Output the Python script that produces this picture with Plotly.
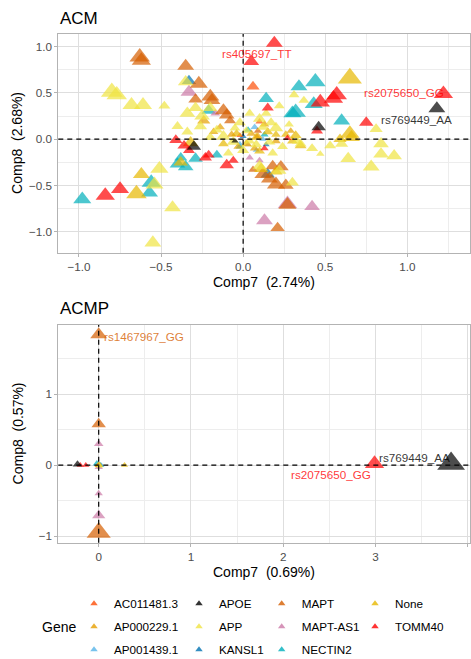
import plotly.graph_objects as go

W, H = 471, 659

# ---------------- data ----------------
genes = ["AC011481.3", "AP000229.1", "AP001439.1", "APOE", "APP", "KANSL1",
         "MAPT", "MAPT-AS1", "NECTIN2", "None", "TOMM40"]

# ACM panel (Comp7 vs Comp8) : gene, coordinates, contribution (drives marker size)
acm_gene = (["TOMM40"] * 20 + ["APOE"] * 4 + ["AC011481.3"] * 3 + ["MAPT"] * 20 +
            ["MAPT-AS1"] * 8 + ["KANSL1"] * 4 + ["AP001439.1"] * 4 + ["NECTIN2"] * 19 +
            ["APP"] * 56 + ["AP000229.1"] * 11 + ["None"] * 21)
acm_x = [
    # TOMM40
    0.19, 0.05, 1.22, 0.57, 0.55, 0.47, 0.75, 0.15, 0.45, -0.84, -0.75, -0.41, -0.36, -0.33, -0.23, -0.21, -0.10, -0.06, 0.27, 0.13,
    # APOE
    1.18, 0.46, -0.30, -0.05,
    # AC011481.3
    0.06, 0.10, -0.02,
    # MAPT
    -0.63, -0.62, -0.35, -0.27, -0.20, -0.19, -0.29, -0.12, -0.10, -0.08, 0.12, 0.16, 0.20, 0.26, 0.23, 0.18, 0.27, 0.21, 0.09, 0.06,
    # MAPT-AS1
    -0.33, 0.27, 0.42, 0.13, 0.04, 0.10, -0.17, 0.03,
    # KANSL1
    -0.33, 0.15, 0.00, 0.14,
    # AP001439.1
    0.07, -0.02, 0.08, 0.12,
    # NECTIN2
    -0.98, -0.56, -0.57, -0.40, -0.35, -0.38, -0.29, -0.16, -0.21, 0.14, 0.34, 0.44, 0.43, 0.32, 0.30, 0.60, 0.13, -0.02, 0.03,
    # APP
    -0.80, -0.77, -0.68, -0.61, -0.48, -0.35, -0.34, -0.29, -0.25, -0.20, -0.26, -0.16, -0.12, -0.05, -0.02, 0.02, 0.04, 0.10, 0.14, 0.17,
    0.22, 0.31, 0.37, 0.20, 0.08, 0.16, 0.24, 0.35, 0.47, 0.53, 0.60, 0.64, 0.78, 0.84, 0.84, 0.92, 0.81, -0.51, -0.54, -0.43,
    -0.55, 0.10, 0.30, 0.22, -0.06, 0.00, -0.09, 0.04, 0.28, -0.40, -0.34, 0.33, 0.12, 0.42, 0.18, -0.20,
    # AP000229.1
    -0.24, -0.07, 0.05, -0.14, 0.09, 0.20, 0.07, -0.03, 0.13, -0.18, 0.29,
    # None
    0.65, -0.62, -0.65, -0.38, 0.65, 0.66, 0.59, 0.32, 0.35, -0.32, 0.08, 0.15, -0.04, 0.02, 0.10, -0.12, 0.20, 0.26, 0.11, 0.20, 0.30,
]
acm_y = [
    # TOMM40
    1.04, 0.84, 0.49, 0.48, 0.44, 0.40, 0.18, 0.34, 0.09, -0.61, -0.54, -0.01, -0.07, -0.12, -0.20, -0.17, -0.28, -0.23, 0.01, -0.10,
    # APOE
    0.33, 0.13, -0.08, -0.02,
    # AC011481.3
    0.57, 0.19, 0.04,
    # MAPT
    0.89, 0.85, 0.79, 0.60, 0.46, 0.42, 0.43, 0.31, 0.26, 0.20, -0.38, -0.43, -0.49, -0.50, -0.30, -0.29, -0.71, -0.96, 0.09, -0.33,
    # MAPT-AS1
    0.51, -0.70, -0.73, -0.88, -0.20, -0.23, 0.28, -0.06,
    # KANSL1
    0.63, -0.38, 0.03, -0.06,
    # AP001439.1
    0.13, -0.05, -0.12, 0.00,
    # NECTIN2
    -0.65, -0.47, -0.58, -0.27, -0.30, -0.20, -0.21, -0.17, 0.31, 0.44, 0.57, 0.62, 0.38, 0.29, 0.28, 0.20, 0.05, -0.08, 0.10,
    # APP
    0.51, 0.48, 0.37, 0.37, 0.36, 0.62, 0.28, 0.34, 0.25, 0.34, 0.14, 0.10, 0.03, 0.12, 0.18, 0.09, 0.28, 0.22, 0.28, 0.18,
    0.36, 0.48, 0.42, 0.12, -0.06, -0.03, -0.08, -0.05, -0.16, -0.07, -0.05, -0.21, -0.30, -0.16, -0.05, -0.18, 0.11, -0.32, -0.49, -0.74,
    -1.12, -0.29, -0.47, -0.34, -0.03, -0.12, -0.15, -0.02, 0.16, 0.14, 0.08, -0.02, 0.13, -0.10, -0.15, 0.02,
    # AP000229.1
    0.20, 0.05, 0.06, 0.13, 0.03, -0.02, -0.10, -0.08, 0.16, 0.08, 0.09,
    # None
    0.66, -0.38, -0.59, -0.25, 0.06, 0.02, 0.00, 0.04, -0.07, -0.04, 0.02, 0.08, 0.06, -0.05, -0.13, -0.05, 0.05, 0.05, -0.32, -0.35, -0.02,
]
acm_contrib = [
    # TOMM40
    14, 13, 16, 17, 16, 16, 12, 10, 10, 16, 15, 11, 11, 10, 11, 10, 12, 9, 7, 7,
    # APOE
    14, 12, 12, 6,
    # AC011481.3
    11, 7, 6,
    # MAPT
    17, 16, 14, 15, 15, 14, 12, 14, 13, 10, 14, 14, 15, 13, 13, 12, 15, 12, 7, 8,
    # MAPT-AS1
    14, 16, 13, 14, 7, 7, 8, 6,
    # KANSL1
    12, 12, 6, 6,
    # AP001439.1
    7, 6, 6, 6,
    # NECTIN2
    15, 16, 14, 13, 13, 11, 12, 10, 12, 13, 14, 17, 15, 17, 15, 14, 7, 7, 7,
    # APP
    18, 17, 15, 15, 10, 13, 13, 12, 13, 12, 11, 10, 12, 9, 10, 9, 9, 11, 9, 10,
    9, 9, 9, 12, 10, 10, 9, 10, 7, 10, 11, 13, 14, 13, 13, 13, 11, 15, 15, 14,
    14, 12, 11, 12, 11, 10, 9, 9, 8, 10, 10, 9, 10, 10, 9, 10,
    # AP000229.1
    11, 8, 8, 8, 8, 8, 8, 8, 8, 8, 7,
    # None
    20, 14, 17, 12, 16, 14, 11, 10, 10, 13, 9, 9, 9, 9, 9, 9, 8, 8, 12, 11, 9,
]

# ACMP panel
acmp_gene = (["MAPT"] * 3 + ["MAPT-AS1"] * 4 + ["APOE"] * 2 + ["TOMM40"] * 3 + ["NECTIN2"] * 2 +
             ["APP"] + ["None"] * 2 + ["AP000229.1"] + ["AP001439.1"] + ["KANSL1"] + ["AC011481.3"])
acmp_x = [0.0, 0.0, 0.0,  0.0, 0.0, 0.0, 0.0,  3.82, -0.23,  2.99, -0.20, -0.14,  -0.02, 0.02,
          0.01,  0.0, 0.28,  0.01,  0.03,  0.0,  -0.01]
acmp_y = [1.84, 0.58, -0.95,  0.30, -0.03, -0.40, -0.71,  0.02, 0.01,  0.02, 0.0, 0.0,  0.02, 0.0,
          -0.01,  0.0, 0.0,  0.01,  0.0,  -0.01,  0.0]
acmp_contrib = [14, 12, 20,  8, 7, 7, 11,  23, 8,  16, 6, 6,  7, 6,  6,  7, 6,  5,  5,  5,  5]

# labelled points: (text, panel, x, y, gene)
label_text = ["rs405697_TT", "rs2075650_GG", "rs769449_AA", "rs1467967_GG", "rs2075650_GG", "rs769449_AA"]
label_panel = [1, 1, 1, 2, 2, 2]
label_x = [0.19, 1.22, 1.18, 0.0, 2.99, 3.82]
label_y = [1.04, 0.49, 0.33, 1.84, 0.02, 0.02]
label_gene = ["TOMM40", "TOMM40", "APOE", "MAPT", "TOMM40", "APOE"]

assert len(acm_gene) == len(acm_x) == len(acm_y) == len(acm_contrib)
assert len(acmp_gene) == len(acmp_x) == len(acmp_y) == len(acmp_contrib)

# ---------------- styles ----------------
colors = {
    "AC011481.3": "#FC4E07", "AP000229.1": "#E69F00", "AP001439.1": "#56B4E9",
    "APOE": "#000000", "APP": "#F0E442", "KANSL1": "#0072B2", "MAPT": "#D55E00",
    "MAPT-AS1": "#CC79A7", "NECTIN2": "#00AFBB", "None": "#E7B800", "TOMM40": "#FF0000",
}
draw_order = ["NECTIN2", "KANSL1", "AP001439.1", "MAPT-AS1", "MAPT", "AC011481.3",
              "None", "AP000229.1", "APP", "TOMM40", "APOE"]
legend_cols = [["AC011481.3", "AP000229.1", "AP001439.1"],
               ["APOE", "APP", "KANSL1"],
               ["MAPT", "MAPT-AS1", "NECTIN2"],
               ["None", "TOMM40"]]
legend_sym_x = [94, 199, 281.7, 375]

FONT = "Liberation Sans, Arial, sans-serif"


def rgba(hexc, a):
    h = hexc.lstrip("#")
    return "rgba(%d,%d,%d,%.2f)" % (int(h[0:2], 16), int(h[2:4], 16), int(h[4:6], 16), a)


def px_x(p):
    return p / W


def px_y(p):
    return 1 - p / H


fig = go.Figure()

panels = [(acm_gene, acm_x, acm_y, acm_contrib, "x", "y"),
          (acmp_gene, acmp_x, acmp_y, acmp_contrib, "x2", "y2")]
for gl, xl, yl, cl, xa, ya in panels:
    for g in draw_order:
        idx = [i for i, gg in enumerate(gl) if gg == g]
        if not idx:
            continue
        fig.add_trace(go.Scatter(
            x=[xl[i] for i in idx], y=[yl[i] for i in idx], mode="markers",
            xaxis=xa, yaxis=ya, showlegend=False, legendgroup=g, name=g,
            marker=dict(symbol="triangle-up", size=[1.05 * cl[i] for i in idx],
                        color=colors[g], opacity=0.7, line=dict(width=0)),
            hoverinfo="skip"))

# legend entries (one legend per column)
for ci, col in enumerate(legend_cols):
    lname = "legend" if ci == 0 else "legend%d" % (ci + 1)
    for g in col:
        fig.add_trace(go.Scatter(
            x=[None], y=[None], mode="markers", name=g, legendgroup=g, legend=lname,
            showlegend=True,
            marker=dict(symbol="triangle-up", size=6.5, color=colors[g], opacity=0.8,
                        line=dict(width=0))))

legend_common = dict(font=dict(family=FONT, size=11.7, color="#000000"),
                     bgcolor="rgba(0,0,0,0)", tracegroupgap=4, orientation="v",
                     xanchor="left", yanchor="top", y=px_y(589), itemwidth=30)
legends = {}
for ci in range(4):
    lname = "legend" if ci == 0 else "legend%d" % (ci + 1)
    legends[lname] = dict(legend_common, x=px_x(legend_sym_x[ci] - 20))

grid_major = "#DEDEDE"
grid_minor = "#EDEDED"
axis_common = dict(showline=True, mirror=True, linecolor="#B3B3B3", linewidth=1,
                   showgrid=True, gridcolor=grid_major, gridwidth=1, zeroline=False,
                   ticks="outside", ticklen=3, tickcolor="#B3B3B3", tickwidth=1,
                   tickfont=dict(family=FONT, size=11.7, color="#4D4D4D"))

xdom = [px_x(58.3), px_x(470)]
fig.update_layout(
    width=W, height=H, margin=dict(l=0, r=0, t=0, b=0, autoexpand=False),
    paper_bgcolor="white", plot_bgcolor="white",
    font=dict(family=FONT),
    xaxis=dict(axis_common, domain=xdom, range=[-1.126, 1.382], tick0=0, dtick=0.5,
               tickformat=".1f", anchor="y",
               minor=dict(dtick=0.25, tick0=0, showgrid=True, gridcolor=grid_minor, gridwidth=0.6, ticks="")),
    yaxis=dict(axis_common, domain=[px_y(252.7), px_y(34)], range=[-1.228, 1.138], tick0=0,
               dtick=0.5, tickformat=".1f", anchor="x",
               minor=dict(dtick=0.25, tick0=0, showgrid=True, gridcolor=grid_minor, gridwidth=0.6, ticks="")),
    xaxis2=dict(axis_common, domain=xdom, range=[-0.438, 4.025], tick0=0, dtick=1, anchor="y2",
                minor=dict(dtick=0.5, tick0=0, showgrid=True, gridcolor=grid_minor, gridwidth=0.6, ticks="")),
    yaxis2=dict(axis_common, domain=[px_y(542.7), px_y(325)], range=[-1.094, 1.976], tick0=0,
                dtick=1, anchor="x2",
                minor=dict(dtick=0.5, tick0=0, showgrid=True, gridcolor=grid_minor, gridwidth=0.6, ticks="")),
    **legends,
)

# dashed reference lines at 0
for xa, ya in [("x", "y"), ("x2", "y2")]:
    fig.add_shape(type="line", xref=xa, yref=ya + " domain", x0=0, x1=0, y0=0, y1=1,
                  line=dict(color="black", width=1.2, dash="5px,4px"))
    fig.add_shape(type="line", xref=xa + " domain", yref=ya, x0=0, x1=1, y0=0, y1=0,
                  line=dict(color="black", width=1.2, dash="5px,4px"))

NB = "\u00a0"
texts = [
    ("ACM", px_x(58.3), px_y(18.7), 17, 0, "left"),
    ("ACMP", px_x(58.3), px_y(308.7), 17, 0, "left"),
    ("Comp7" + NB + " (2.74%)", px_x(264), px_y(281.7), 14, 0, "center"),
    ("Comp8" + NB + " (2.68%)", px_x(17.5), px_y(143.4), 14, -90, "center"),
    ("Comp7" + NB + " (0.69%)", px_x(264), px_y(571.7), 14, 0, "center"),
    ("Comp8" + NB + " (0.57%)", px_x(17.5), px_y(433.9), 14, -90, "center"),
    ("Gene", px_x(58.5), px_y(627), 14, 0, "center"),
]
for t, x, y, s, ang, xan in texts:
    fig.add_annotation(text=t, x=x, y=y, xref="paper", yref="paper", showarrow=False,
                       xanchor=xan, yanchor="middle", textangle=ang,
                       font=dict(family=FONT, size=s, color="#000000"))

# repelled point labels: pixel offsets from their point
label_shift = [(-17, -10.7), (-39.5, 1), (-20.6, -11), (45, -2), (-44, -11), (-36.7, 6.6)]
for t, pnl, x, y, g, (dx, dy) in zip(label_text, label_panel, label_x, label_y, label_gene, label_shift):
    xa, ya = ("x", "y") if pnl == 1 else ("x2", "y2")
    fig.add_annotation(text=t, x=x, y=y, xref=xa, yref=ya, showarrow=False,
                       xshift=dx, yshift=dy, xanchor="center", yanchor="middle",
                       font=dict(family=FONT, size=11.7, color=rgba(colors[g], 0.8)))

fig.write_html("out.html", config={"displayModeBar": False},
               post_script="document.body.style.margin='0px';document.body.style.overflow='hidden';")
